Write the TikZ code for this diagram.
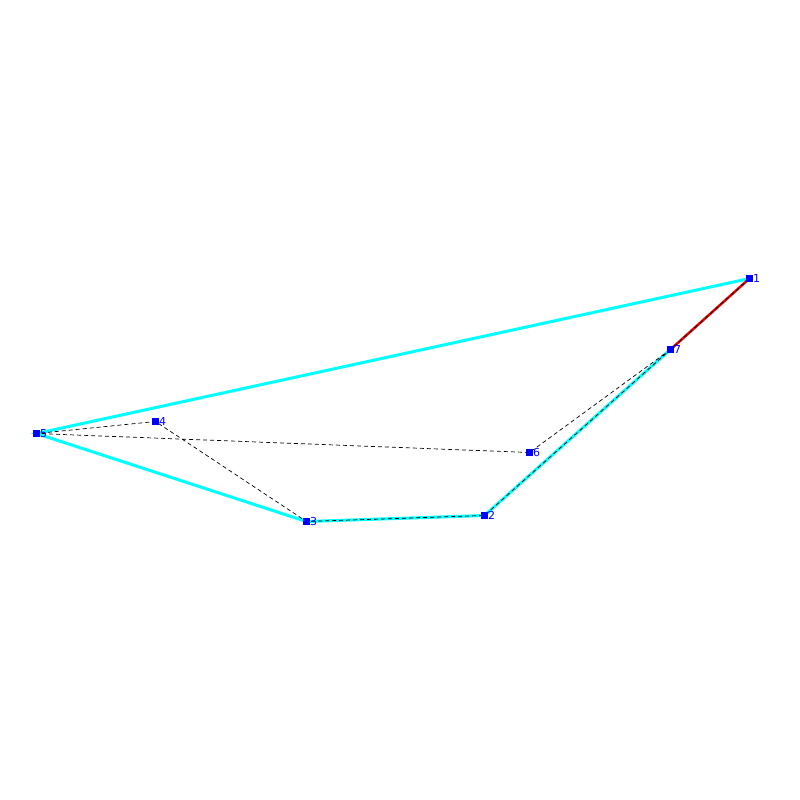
\documentclass[tikz,border=0pt]{standalone}
\usepackage{fontspec}
\setmainfont{DejaVu Sans}
\definecolor{cyanline}{RGB}{0,255,255}
\definecolor{redline}{RGB}{230,0,0}
\definecolor{bluept}{RGB}{0,0,255}
\begin{document}
\begin{tikzpicture}[x=1pt,y=-1pt,
  pt/.style={fill=bluept,draw=none,minimum size=7pt,inner sep=0pt,outer sep=0pt,rectangle},
  lbl/.style={text=bluept,font=\fontsize{11}{11}\selectfont,anchor=west,inner sep=0pt},
  cyanedge/.style={cyanline,line width=3pt},
  rededge/.style={redline,line width=2.5pt},
  dashedge/.style={black,line width=0.7pt,dash pattern=on 4pt off 3pt}]
\useasboundingbox (0,0) rectangle (800,800);
\fill[white] (0,0) rectangle (800,800);
\coordinate (p1) at (749.5,278.5);
\coordinate (p2) at (484.5,515.5);
\coordinate (p3) at (306.5,521.5);
\coordinate (p4) at (155.5,421.5);
\coordinate (p5) at (36.5,433.5);
\coordinate (p6) at (529.5,452.5);
\coordinate (p7) at (670.5,349.5);
\draw[cyanedge] (p1) -- (p5) -- (p3) -- (p2) -- (p7);
\draw[rededge] (p7) -- (p1);
\draw[dashedge] (p1) -- (p7) -- (p2) -- (p3) -- (p4) -- (p5) -- (p6) -- (p7);
\foreach \i in {1,...,7} {
  \node[pt] (n\i) at (p\i) {};
  \node[lbl] (l\i) at ([xshift=3.5pt]p\i) {\i};
}
\end{tikzpicture}
\end{document}
